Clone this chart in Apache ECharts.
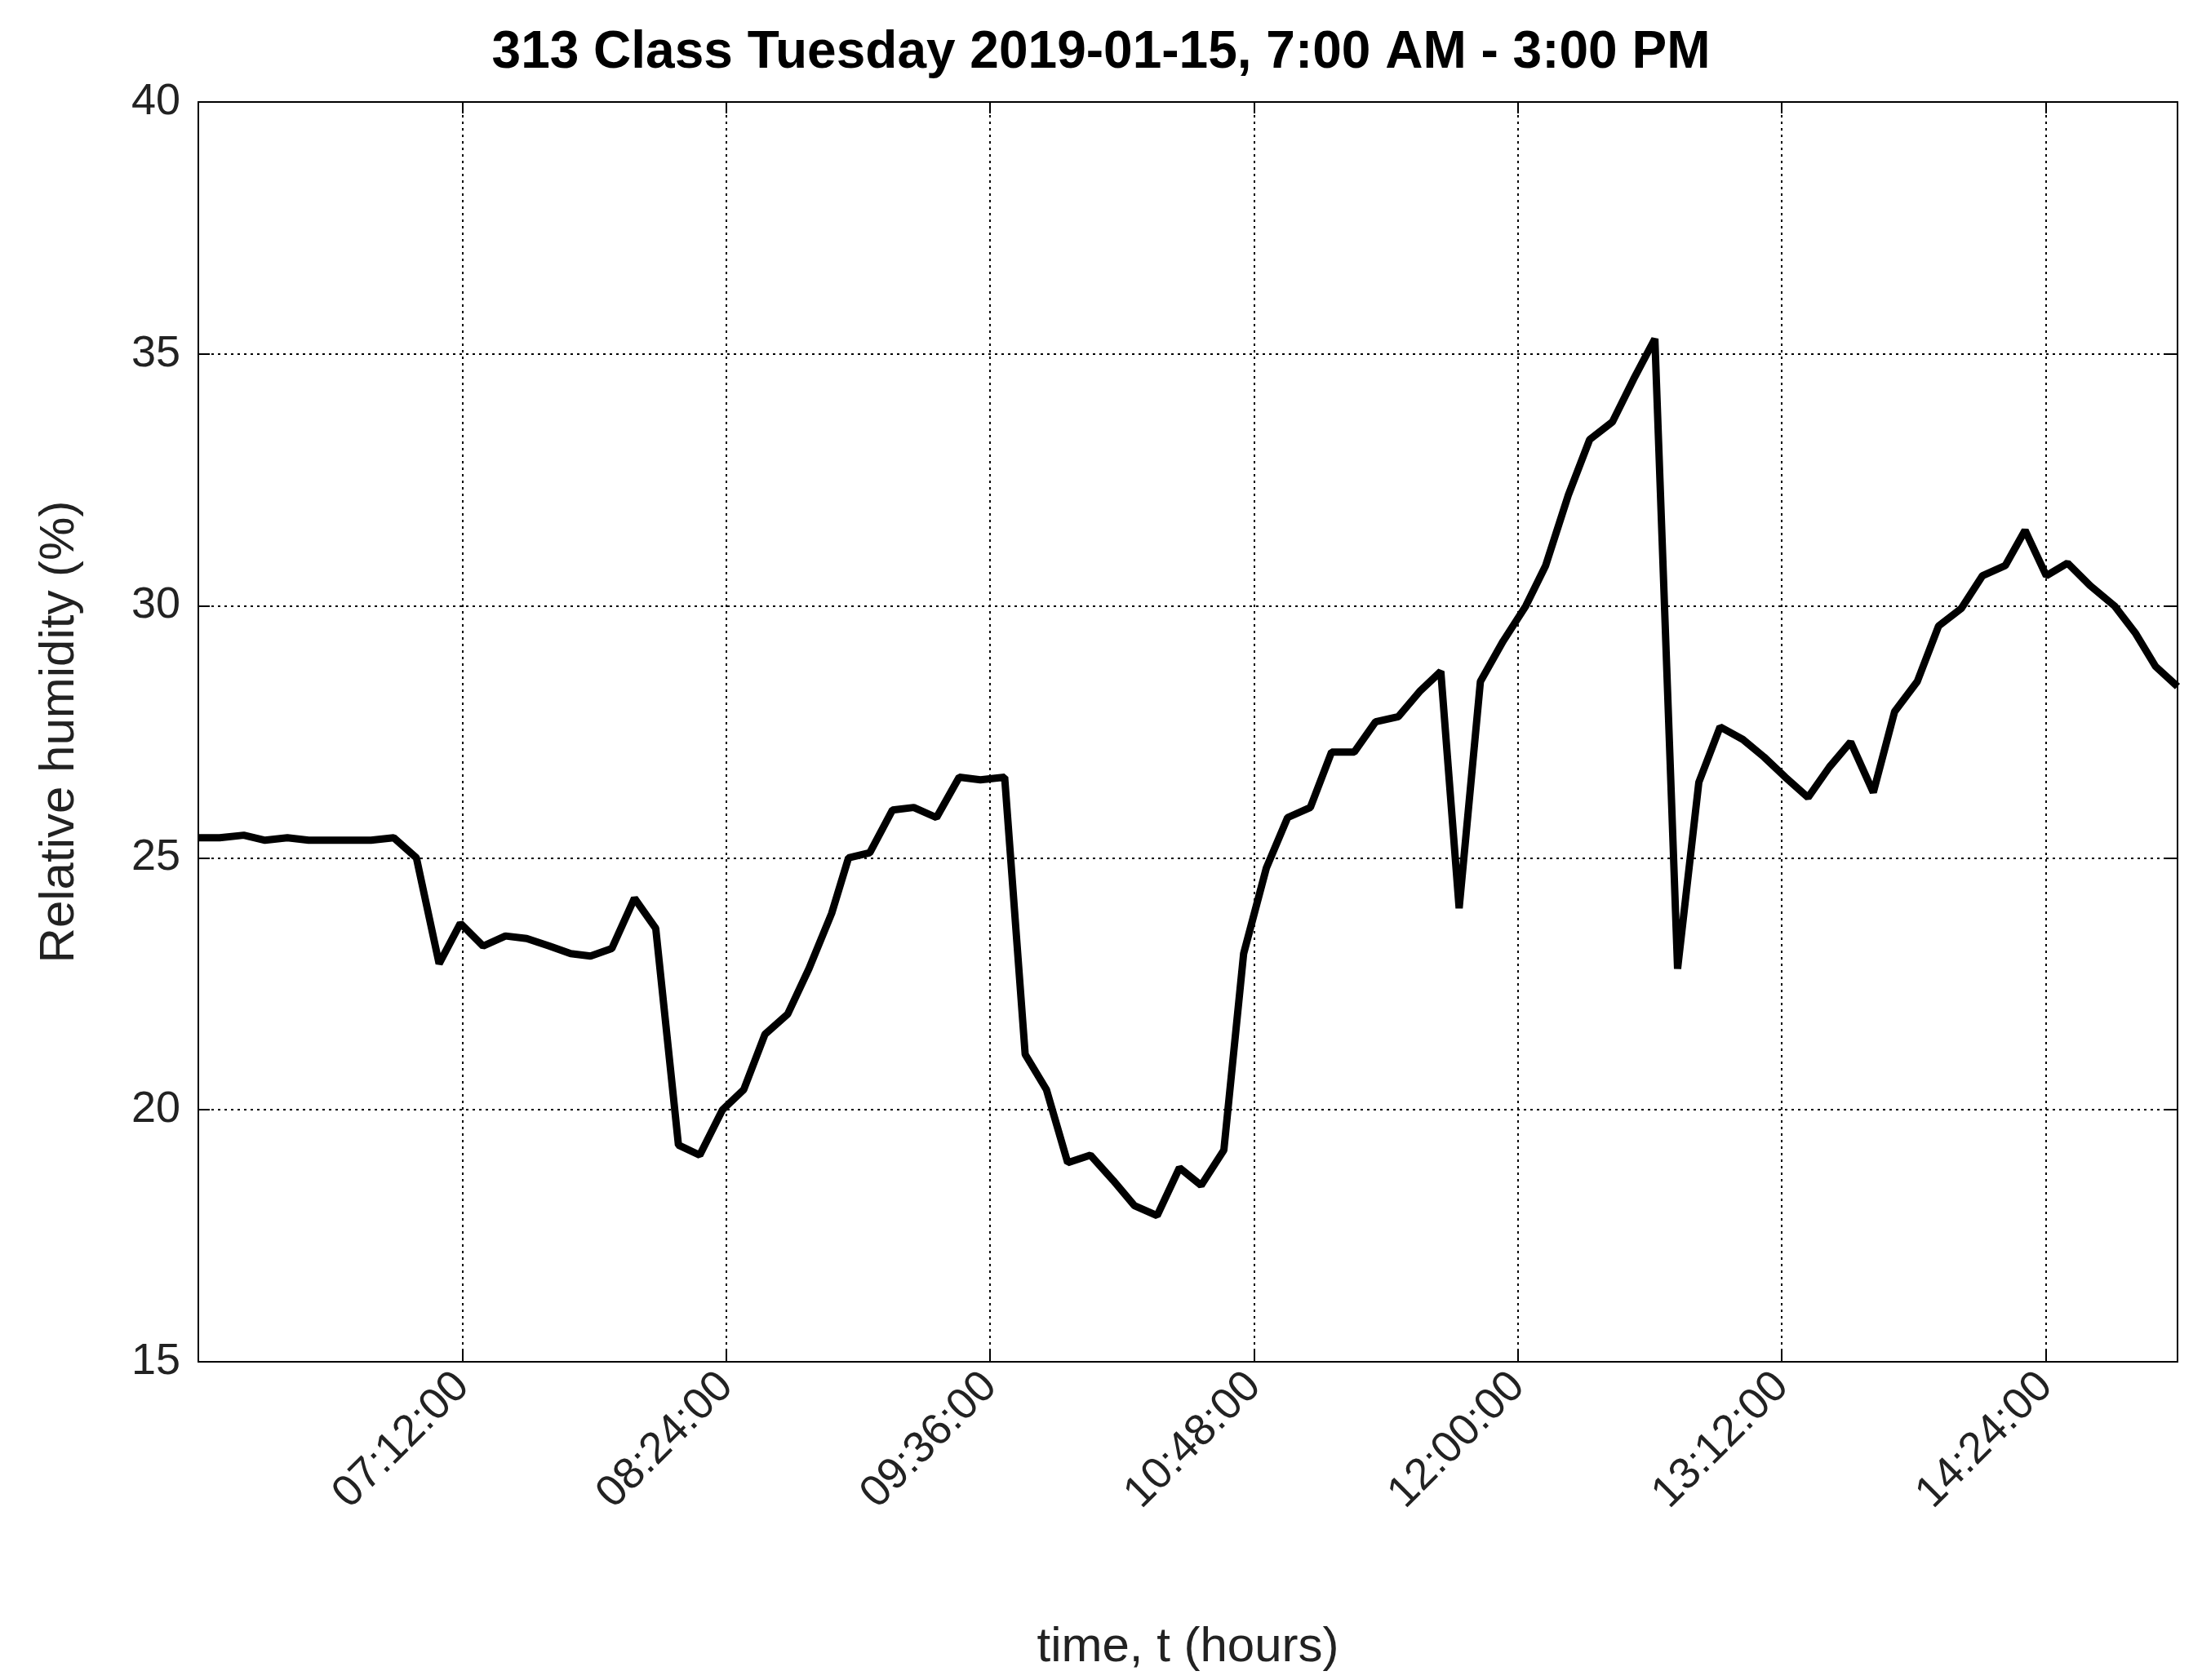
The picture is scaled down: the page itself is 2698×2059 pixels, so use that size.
<!DOCTYPE html><html><head><meta charset="utf-8">
<script src="https://cdn.jsdelivr.net/npm/echarts@6/dist/echarts.min.js"></script>
<style>html,body{margin:0;padding:0;background:#fff}#c{width:2698px;height:2059px}</style></head><body><div id="c"></div>
<script>
// minutes after 06:00
const minutesAfter6 = [0,5.8,12.4,18.2,24.3,30.1,35.9,41.7,47.1,53.3,
59.5,65.7,71.5,77.7,83.8,89.6,95.8,101.6,107,112.8,
119,124.8,131,136.8,143,148.8,154.6,160.8,166.6,172.8,
177.4,183.2,189.4,195.2,201.4,207.6,213.4,220,225.6,231.4,
237.2,243.4,249.6,255.4,261.6,267.7,273.6,279.8,285.2,291.4,
297.2,303.4,309.2,315.4,321.2,327.4,333.2,339,344,349.8,
356,362.2,367.6,373.8,379.6,385.8,391.6,397.4,403.6,409.4,
415.2,421.4,427.2,433,439.2,445,450.8,457,462.8,469,
474.8,481,486.8,493,498.4,504.2,510,516.2,522.8,528.6,534,540];
const humidity = [25.4,25.4,25.45,25.35,25.4,25.35,25.35,25.35,25.35,25.4,
25.0,22.9,23.7,23.25,23.45,23.4,23.25,23.1,23.05,23.2,
24.2,23.6,19.3,19.1,20.0,20.4,21.5,21.9,22.8,23.9,
25.0,25.1,25.95,26.0,25.8,26.6,26.55,26.6,21.1,20.4,
18.95,19.1,18.6,18.1,17.9,18.85,18.5,19.2,23.1,24.8,
25.8,26.0,27.1,27.1,27.7,27.8,28.3,28.7,24.0,28.5,
29.3,30.0,30.8,32.2,33.3,33.65,34.5,35.3,22.8,26.5,
27.6,27.35,27.0,26.6,26.2,26.8,27.3,26.3,27.9,28.5,
29.6,29.95,30.6,30.8,31.5,30.6,30.85,30.4,30.0,29.45,28.8,28.4];
const yTicks = [15,20,25,30,35,40];
const titleText = '313 Class Tuesday 2019-01-15, 7:00 AM - 3:00 PM';
const data = minutesAfter6.map((m,i)=>[360+m, humidity[i]]);
const fmt = v => { if (v<=360 || v>=900) return ''; const h=Math.floor(v/60), m=Math.round(v%60); return String(h).padStart(2,'0')+':'+String(m).padStart(2,'0')+':00'; };
const F = 'Liberation Sans, Arial, sans-serif';
const grid = {left:243,right:30,top:125,bottom:390};
const split = {show:true,lineStyle:{color:'#000',type:[3,5],width:2}};
const ax = {lineStyle:{color:'#000',width:2}};
const c = echarts.init(document.getElementById('c'));
c.setOption({
  backgroundColor:'#fff', animation:false,
  title:{text:titleText,left:'center',top:28,textStyle:{fontFamily:F,fontWeight:'bold',fontSize:64,color:'#000'}},
  grid,
  xAxis:[{type:'value',min:360,max:900,interval:72,
    axisLine:ax,axisTick:{inside:true,length:14,lineStyle:{color:'#000',width:2}},
    axisLabel:{formatter:fmt,rotate:45,fontFamily:F,fontSize:54,color:'#222',margin:22},
    splitLine:split,name:'time, t (hours)',nameLocation:'middle',nameGap:320,
    nameTextStyle:{fontFamily:F,fontSize:60,color:'#222'}},
   {type:'value',position:'top',min:360,max:900,interval:72,axisLine:ax,
    axisTick:{inside:true,length:14,lineStyle:{color:'#000',width:2}},axisLabel:{show:false},splitLine:{show:false}}],
  yAxis:[{type:'value',min:yTicks[0],max:yTicks[yTicks.length-1],interval:5,
    axisLine:{show:true,...ax},axisTick:{show:true,inside:true,length:14,lineStyle:{color:'#000',width:2}},
    axisLabel:{fontFamily:F,fontSize:54,color:'#222',margin:22},splitLine:split,
    name:'Relative humidity (%)',nameLocation:'middle',nameGap:140,
    nameTextStyle:{fontFamily:F,fontSize:60,color:'#222'}},
   {type:'value',position:'right',min:15,max:40,interval:5,axisLine:{show:true,...ax},
    axisTick:{show:true,inside:true,length:14,lineStyle:{color:'#000',width:2}},axisLabel:{show:false},splitLine:{show:false}}],
  series:[{type:'line',data,showSymbol:false,lineStyle:{color:'#000',width:9},clip:true}]
});
</script></body></html>
